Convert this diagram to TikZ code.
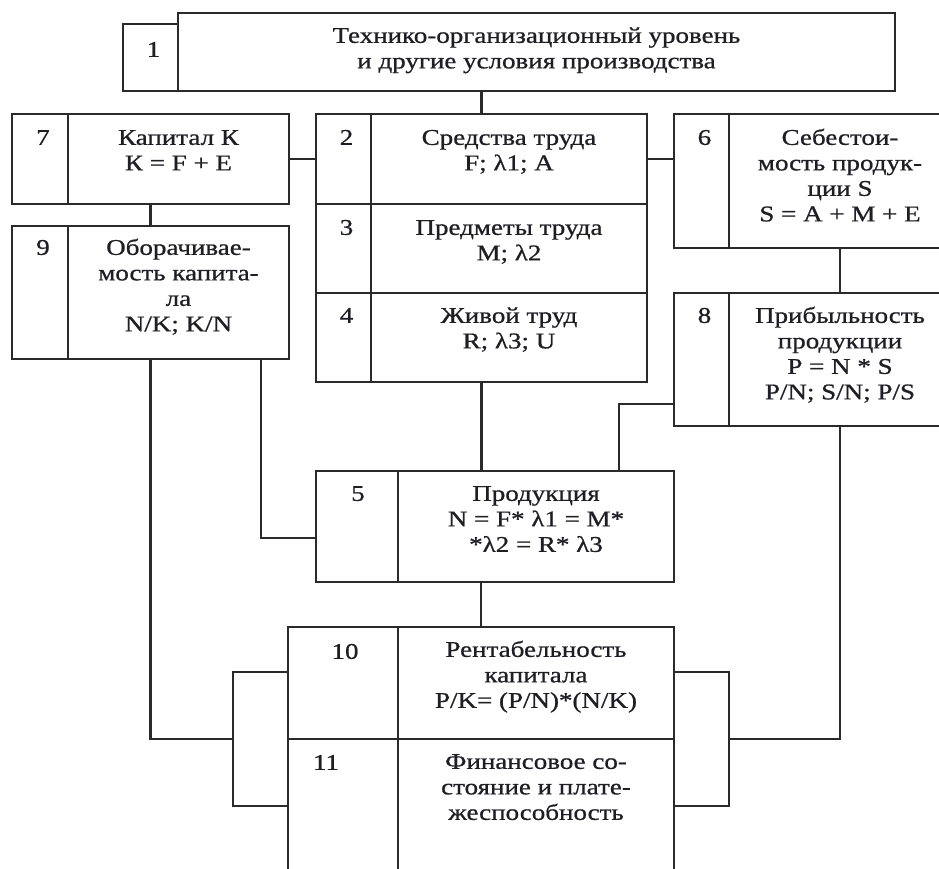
\documentclass[tikz,border=0pt]{standalone}
\usepackage{fontspec}
\setmainfont{Liberation Serif}[FakeStretch=1.2,FakeBold=0.8]
\usetikzlibrary{calc}
\definecolor{lc}{HTML}{2A2A2A}
\definecolor{tc}{HTML}{1E1E24}
\begin{document}
\begin{tikzpicture}[x=1pt,y=-1pt,
  cell/.style={draw=lc, line width=2.2pt, rectangle, inner sep=0pt, outer sep=0pt, anchor=north west},
  wire/.style={draw=lc, line width=2.2pt},
  txt/.style={anchor=north, inner sep=0pt, outer sep=0pt, align=center, text=tc, font=\fontsize{22.5}{25.5}\selectfont},
  num/.style={txt}]
\path[use as bounding box] (0,0) rectangle (939,868);
\clip (0,0) rectangle (939,868);
\fill[white] (0,0) rectangle (939,868);

% cells
\node[cell, minimum width=55pt, minimum height=67pt] (n1) at (123,24) {};
\node[cell, minimum width=717pt, minimum height=78pt] (t1) at (178,13) {};
\node[cell, minimum width=56pt, minimum height=90pt] (n7) at (12,114) {};
\node[cell, minimum width=221pt, minimum height=90pt] (t7) at (68,114) {};
\node[cell, minimum width=56pt, minimum height=133pt] (n9) at (12,226) {};
\node[cell, minimum width=221pt, minimum height=133pt] (t9) at (68,226) {};
\node[cell, minimum width=55pt, minimum height=90pt] (n2) at (316,114) {};
\node[cell, minimum width=276pt, minimum height=90pt] (t2) at (371,114) {};
\node[cell, minimum width=55pt, minimum height=89pt] (n3) at (316,204) {};
\node[cell, minimum width=276pt, minimum height=89pt] (t3) at (371,204) {};
\node[cell, minimum width=55pt, minimum height=89pt] (n4) at (316,293) {};
\node[cell, minimum width=276pt, minimum height=89pt] (t4) at (371,293) {};
\node[cell, minimum width=55pt, minimum height=134pt] (n6) at (674,114) {};
\node[cell, minimum width=222pt, minimum height=134pt] (t6) at (729,114) {};
\node[cell, minimum width=55pt, minimum height=133pt] (n8) at (674,293) {};
\node[cell, minimum width=222pt, minimum height=133pt] (t8) at (729,293) {};
\node[cell, minimum width=82pt, minimum height=111pt] (n5) at (316,471) {};
\node[cell, minimum width=276pt, minimum height=111pt] (t5) at (398,471) {};
\node[cell, minimum width=110pt, minimum height=112pt] (n10) at (288,627) {};
\node[cell, minimum width=276pt, minimum height=112pt] (t10) at (398,627) {};
\node[cell, minimum width=110pt, minimum height=150pt] (n11) at (288,739) {};
\node[cell, minimum width=276pt, minimum height=150pt] (t11) at (398,739) {};

% numbers
\node[num] (k1) at ([xshift=3pt,yshift=-15pt]n1.north) {\strut 1};
\node[num] (k7) at ([xshift=3pt,yshift=-13pt]n7.north) {\strut 7};
\node[num] (k9) at ([xshift=3pt,yshift=-11pt]n9.north) {\strut 9};
\node[num] (k2) at ([xshift=3pt,yshift=-13pt]n2.north) {\strut 2};
\node[num] (k3) at ([xshift=3pt,yshift=-13pt]n3.north) {\strut 3};
\node[num] (k4) at ([xshift=3pt,yshift=-12pt]n4.north) {\strut 4};
\node[num] (k6) at ([xshift=3pt,yshift=-13pt]n6.north) {\strut 6};
\node[num] (k8) at ([xshift=3pt,yshift=-12pt]n8.north) {\strut 8};
\node[num] (k5) at ([xshift=1pt,yshift=-12pt]n5.north) {\strut 5};
\node[num] (k10) at ([xshift=2pt,yshift=-14pt]n10.north) {\strut 10};
\node[num] (k11) at ([xshift=-17pt,yshift=-13pt]n11.north) {\strut 11};

% texts
\node[txt] (l1) at ([yshift=-12pt]t1.north) {\strut Технико-организационный уровень\\и другие условия производства};
\node[txt] (l7) at ([yshift=-13pt]t7.north) {\strut Капитал К\\К = F + E};
\node[txt] (l9) at ([yshift=-11pt]t9.north) {\strut Оборачивае-\\мость капита-\\ла\\N/K; K/N};
\node[txt] (l2) at ([yshift=-13pt]t2.north) {\strut Средства труда\\F; λ1; A};
\node[txt] (l3) at ([yshift=-13pt]t3.north) {\strut Предметы труда\\M; λ2};
\node[txt] (l4) at ([yshift=-12pt]t4.north) {\strut Живой труд\\R; λ3; U};
\node[txt] (l6) at ([yshift=-13pt]t6.north) {\strut Себестои-\\мость продук-\\ции S\\S = A + M + E};
\node[txt] (l8) at ([yshift=-12pt]t8.north) {\strut Прибыльность\\продукции\\P = N * S\\P/N; S/N; P/S};
\node[txt] (l5) at ([yshift=-12pt]t5.north) {\strut Продукция\\N = F* λ1 = M*\\*λ2 = R* λ3};
\node[txt] (l10) at ([yshift=-12pt]t10.north) {\strut Рентабельность\\капитала\\P/K= (P/N)*(N/K)};
\node[txt] (l11) at ([yshift=-12pt]t11.north) {\strut Финансовое со-\\стояние и плате-\\жеспособность};

% connectors
\coordinate (m2) at ($(n2.north west)!0.5!(t2.north east)$);
\coordinate (m4) at ($(n4.south west)!0.5!(t4.south east)$);
\coordinate (m7) at ($(n7.south west)!0.5!(t7.south east)$);
\coordinate (m9n) at ($(n9.north west)!0.5!(t9.north east)$);
\coordinate (m9s) at ($(n9.south west)!0.5!(t9.south east)$);
\coordinate (m10) at ($(n10.north west)!0.5!(t10.north east)$);

\draw[wire] (m2) -- (m2 |- t1.south);
\draw[wire] (t7.east) -- (n2.west);
\draw[wire] (t2.east) -- (n6.west |- t2.east);
\draw[wire] (m7) -- (m9n);
\draw[wire] (t6.south) -- (t8.north);
\draw[wire] (m4) -- (m4 |- t5.north);
\draw[wire] ([yshift=22pt]n8.south west) -| ([xshift=-55pt]t5.north east);
\draw[wire] ([xshift=-28pt]t9.south east) |- ([yshift=-11.5pt]n5.west);
\draw[wire] (m10) -- (m10 |- t5.south);
\draw[wire] ([yshift=-45pt]n10.north west) -- ++(-55,0) |- ([yshift=-67pt]n11.north west);
\draw[wire] (m9s) |- ([xshift=-55pt]n10.south west);
\draw[wire] ([yshift=-45pt]t10.north east) -- ++(55,0) |- ([yshift=-67pt]t11.north east);
\draw[wire] (t8.south) |- ([xshift=55pt]t10.south east);
\end{tikzpicture}
\end{document}
